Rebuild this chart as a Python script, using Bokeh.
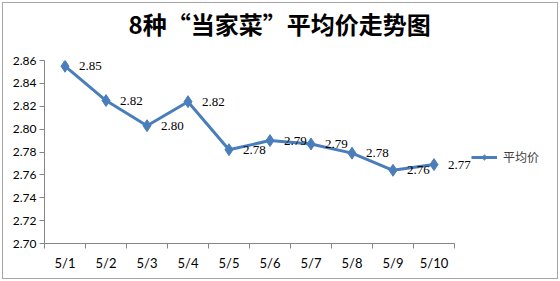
from bokeh.plotting import figure
from bokeh.models import (ColumnDataSource, FixedTicker, Range1d, LabelSet,
                          Legend, LegendItem, InlineStyleSheet, Title)
from bokeh.embed import file_html
from bokeh.resources import INLINE

categories = ["5/1", "5/2", "5/3", "5/4", "5/5", "5/6", "5/7", "5/8", "5/9", "5/10"]
values = [2.855, 2.825, 2.803, 2.824, 2.782, 2.790, 2.787, 2.779, 2.764, 2.769]
labels = ["2.85", "2.82", "2.80", "2.82", "2.78", "2.79", "2.79", "2.78", "2.76", "2.77"]
y_ticks = [2.70, 2.72, 2.74, 2.76, 2.78, 2.80, 2.82, 2.84, 2.86]
series_name = "平均价"
title_text = "8种“当家菜”平均价走势图"

n = len(categories)
xs = list(range(1, n + 1))
src = ColumnDataSource(dict(x=xs, y=values, lab=labels))

# frame spans 44..555 px; categories occupy 41 px each, axis drawn only over them
LEFT, RIGHT = 44, 555
cat_px = 41.0
x_end = 0.5 + (RIGHT - LEFT) / cat_px

p = figure(width=560, height=281, output_backend="svg", toolbar_location=None,
           x_range=Range1d(0.5, x_end), y_range=Range1d(2.70, 2.86),
           min_border_left=LEFT, min_border_right=560 - RIGHT, min_border_top=60,
           min_border_bottom=38)
p.outline_line_color = None
p.xgrid.visible = False
p.ygrid.visible = False
p.border_fill_color = None
p.background_fill_color = None
p.stylesheets = [InlineStyleSheet(
    css=":host { background: #ffffff; outline: 1px solid #a6a6a6; outline-offset: -3px; }")]

p.title.text = title_text
p.title.align = "left"
p.title.offset = 84
p.title.vertical_align = "middle"
p.title.text_line_height = 1.0
p.title.text_font = "Noto Sans CJK SC"
p.title.text_font_size = "24px"
p.title.text_font_style = "bold"
p.title.text_color = "#000000"
p.title.standoff = 0

# spacer between the frame and the title
spacer = Title(text=" ", text_font_size="15px", text_line_height=1.0, standoff=0)
p.add_layout(spacer, "above")

COLOR = "#4a7ebb"
line = p.line("x", "y", source=src, line_color=COLOR, line_width=3)
pts = p.scatter("x", "y", source=src, marker="diamond", size=12, fill_color=COLOR,
                line_color=COLOR)

lbl = LabelSet(x="x", y="y", text="lab", source=src, x_offset=14, y_offset=0,
               text_baseline="middle", text_font="Lato", text_font_size="13px",
               text_color="#000000")
p.add_layout(lbl)

xa = p.xaxis[0]
xa.bounds = (0.5, n + 0.5)
xa.ticker = FixedTicker(ticks=xs, minor_ticks=[i + 0.5 for i in range(0, n + 1)])
xa.major_label_overrides = {i: c for i, c in zip(xs, categories)}
xa.major_tick_out = 0
xa.major_tick_in = 0
xa.minor_tick_out = 5
xa.minor_tick_in = 0
xa.axis_line_color = "#868686"
xa.minor_tick_line_color = "#868686"
xa.major_label_text_font = "Lato"
xa.major_label_text_font_size = "13px"
xa.major_label_text_color = "#000000"
xa.major_label_standoff = 6

ya = p.yaxis[0]
ya.ticker = FixedTicker(ticks=y_ticks, minor_ticks=[])
ya.major_label_overrides = {t: f"{t:.2f}" for t in y_ticks}
ya.major_tick_out = 5
ya.major_tick_in = 0
ya.minor_tick_out = 0
ya.axis_line_color = "#868686"
ya.major_tick_line_color = "#868686"
ya.major_label_text_font = "Lato"
ya.major_label_text_font_size = "12px"
ya.major_label_text_color = "#000000"
ya.major_label_standoff = 3

legend = Legend(items=[LegendItem(label=series_name, renderers=[line, pts])],
                location=(427, 78), background_fill_alpha=0, border_line_color=None,
                label_text_font="Noto Sans CJK SC", label_text_font_size="12px",
                label_text_color="#404040", glyph_width=26, glyph_height=14,
                padding=0, margin=0, label_standoff=6)
p.add_layout(legend)

open("out.html", "w").write(file_html(p, INLINE))
